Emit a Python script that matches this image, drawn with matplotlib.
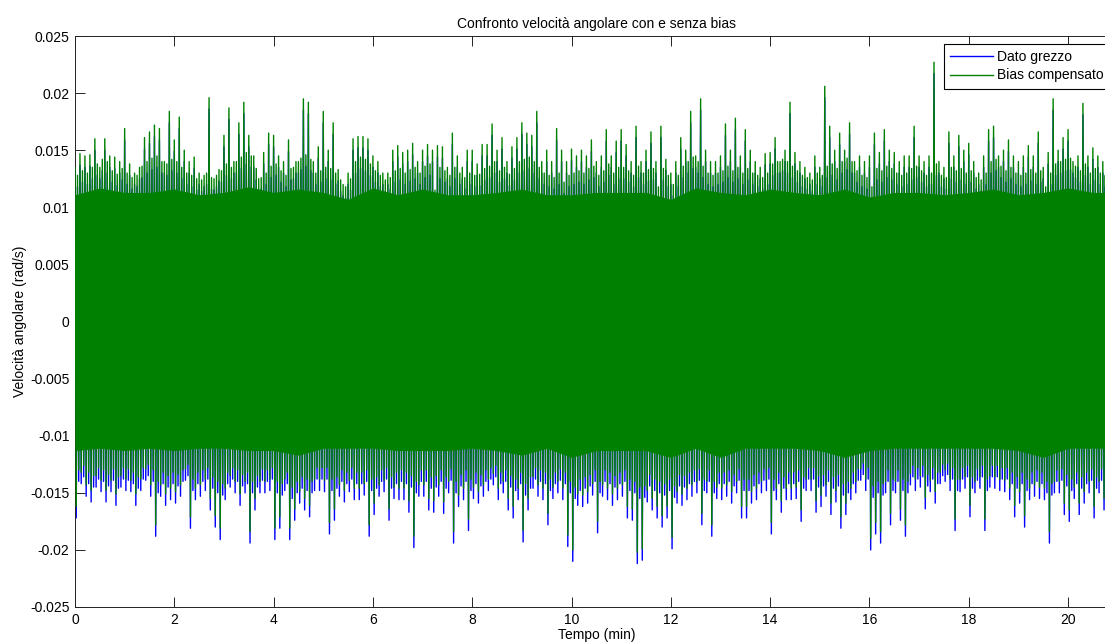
import numpy as np
import matplotlib
matplotlib.use("Agg")
import matplotlib.pyplot as plt
from matplotlib.ticker import FuncFormatter

plt.rcParams["font.family"] = ["Liberation Sans", "DejaVu Sans"]
plt.rcParams["font.size"] = 10

C_RAW = "#0000ff"    # Dato grezzo
C_COMP = "#008000"   # Bias compensato

# ----------------------------------------------------------------------
# Data (values in 1e-3 rad/s)
# Each 0.1 min holds: main max, main min, second max, second min
# ----------------------------------------------------------------------
# main maxima of the compensated signal, t = 0.0, 0.1, ... 20.9 min
main_peaks = [
    13.5, 14.7, 14.5, 14.6, 16.0, 13.5, 16.0, 14.5, 14.4, 14.0,
    16.9, 13.8, 13.0, 13.5, 16.1, 16.6, 17.2, 16.9, 14.0, 18.4,
    15.9, 17.9, 15.0, 14.0, 14.4, 13.0, 12.8, 19.6, 12.5, 13.3,
    16.3, 18.7, 14.0, 17.4, 19.2, 16.3, 14.5, 12.5, 14.8, 16.5,
    16.3, 14.5, 14.0, 15.9, 13.5, 14.0, 19.5, 19.2, 14.0, 15.3,
    18.4, 15.0, 17.4, 13.3, 12.0, 13.0, 16.0, 16.2, 16.2, 16.0,
    14.5, 14.0, 13.0, 13.0, 15.0, 15.4, 14.8, 15.0, 15.6, 14.0,
    15.0, 15.5, 15.0, 15.4, 15.3, 13.5, 16.5, 14.5, 13.5, 15.0,
    15.0, 13.8, 15.5, 15.5, 17.3, 15.0, 16.1, 14.0, 15.3, 16.1,
    17.4, 16.5, 16.3, 18.4, 14.0, 15.0, 14.0, 16.9, 15.0, 14.0,
    15.1, 14.5, 15.0, 14.5, 15.9, 14.0, 14.5, 16.8, 14.5, 15.8,
    16.8, 15.5, 14.0, 17.1, 14.0, 15.0, 16.6, 14.0, 17.1, 14.2,
    13.0, 14.0, 16.1, 15.0, 18.4, 14.5, 19.5, 15.0, 14.0, 14.0,
    14.5, 17.3, 15.0, 17.8, 14.5, 16.8, 15.0, 14.0, 13.5, 14.7,
    14.8, 16.1, 14.0, 15.0, 19.2, 14.8, 14.0, 13.5, 13.0, 14.5,
    13.5, 20.6, 17.1, 15.0, 16.5, 15.0, 17.4, 14.0, 14.5, 14.0,
    14.5, 16.5, 14.8, 16.8, 15.0, 14.8, 14.0, 14.5, 14.5, 17.1,
    14.5, 14.0, 14.5, 22.7, 14.0, 13.5, 16.6, 14.5, 16.3, 15.0,
    15.6, 14.0, 13.0, 14.5, 16.8, 17.1, 14.5, 15.0, 15.9, 14.5,
    14.0, 14.5, 15.4, 14.5, 16.6, 13.5, 14.8, 19.5, 15.0, 16.1,
    16.8, 14.0, 14.5, 19.1, 14.5, 15.2, 14.5, 14.0, 13.5, 14.0,
]
# main minima of the compensated signal
main_troughs = [
    -16.2, -13.2, -14.3, -14.8, -13.5, -13.9, -14.8, -13.9, -15.1, -13.5,
    -13.8, -13.9, -15.1, -13.8, -12.9, -14.3, -17.8, -14.3, -15.1, -14.6,
    -14.9, -14.3, -12.9, -17.1, -14.6, -14.3, -13.8, -15.5, -17.0, -18.1,
    -14.6, -13.5, -14.0, -15.1, -14.0, -18.4, -15.5, -14.0, -14.0, -13.8,
    -18.1, -17.1, -13.8, -18.1, -16.4, -14.9, -15.5, -16.1, -13.8, -13.8,
    -13.9, -17.6, -16.4, -14.3, -14.8, -13.9, -14.6, -14.6, -14.2, -17.8,
    -15.9, -14.3, -13.9, -16.4, -14.5, -14.6, -14.6, -15.7, -18.8, -14.3,
    -14.3, -15.5, -15.7, -14.3, -15.8, -14.0, -18.4, -15.2, -14.6, -17.3,
    -14.5, -14.9, -14.3, -13.8, -13.3, -14.6, -14.0, -15.5, -16.2, -14.6,
    -18.3, -15.5, -13.6, -14.3, -14.6, -16.8, -14.5, -14.0, -14.6, -18.7,
    -20.0, -15.1, -15.2, -14.9, -14.2, -17.5, -14.3, -14.6, -15.1, -14.6,
    -14.3, -16.2, -16.4, -20.2, -19.9, -14.8, -15.5, -16.2, -17.0, -16.2,
    -18.9, -14.9, -15.1, -14.6, -14.3, -14.0, -16.8, -14.0, -17.8, -14.5,
    -14.6, -14.3, -14.9, -14.0, -16.2, -16.2, -14.9, -14.6, -14.0, -13.8,
    -17.6, -14.6, -15.7, -14.6, -14.6, -14.5, -16.5, -13.8, -13.8, -15.7,
    -15.2, -14.3, -15.9, -14.8, -17.1, -15.9, -14.6, -14.0, -12.9, -13.8,
    -19.0, -17.6, -18.4, -14.0, -16.8, -14.0, -16.4, -17.8, -13.3, -13.8,
    -13.5, -15.4, -13.9, -14.9, -13.2, -13.0, -13.8, -17.3, -13.9, -13.6,
    -16.1, -14.0, -13.6, -17.3, -13.5, -13.6, -13.8, -13.9, -14.6, -16.1,
    -14.9, -17.0, -14.6, -14.3, -14.5, -14.6, -18.4, -14.0, -14.0, -15.9,
    -16.5, -14.5, -15.9, -14.9, -14.0, -16.2, -14.0, -15.5, -14.0, -14.5,
]
# second (smaller) maxima inside each 0.1 min
minor_peaks = [
    12.8, 13.2, 13.0, 13.5, 13.8, 14.2, 14.0, 13.2, 12.9, 13.4,
    13.0, 12.6, 12.8, 13.6, 14.0, 14.3, 14.5, 14.0, 13.8, 14.2,
    14.0, 13.5, 13.0, 12.8, 12.5, 12.4, 13.0, 12.6, 12.8, 13.2,
    13.8, 13.5, 14.0, 14.4, 14.8, 14.5, 13.4, 12.6, 13.0, 13.6,
    13.8, 13.2, 12.8, 13.4, 14.0, 14.3, 14.6, 14.2, 13.0, 13.2,
    13.5, 13.4, 13.0, 12.4, 11.8, 12.5, 14.0, 14.4, 14.2, 13.8,
    13.2, 12.8, 12.4, 12.6, 13.2, 13.4, 13.0, 13.3, 13.5, 13.0,
    13.6, 13.8, 11.5, 13.5, 13.2, 12.8, 13.5, 13.0, 12.6, 13.0,
    12.8, 12.9, 13.4, 13.6, 14.0, 13.2, 13.5, 12.9, 13.4, 14.0,
    14.2, 14.4, 14.0, 13.5, 13.0, 12.8, 12.6, 13.0, 12.2, 12.8,
    13.0, 13.2, 13.0, 13.4, 13.6, 12.8, 13.2, 13.8, 13.0, 13.5,
    13.5, 13.2, 12.8, 13.6, 13.0, 13.3, 13.4, 11.8, 13.4, 12.8,
    12.0, 12.8, 13.6, 14.0, 14.4, 14.0, 13.6, 13.0, 12.8, 13.0,
    13.2, 13.6, 13.2, 13.5, 13.0, 13.4, 13.0, 12.8, 12.6, 13.0,
    13.8, 14.0, 14.2, 14.0, 13.6, 13.2, 12.8, 12.6, 12.4, 13.0,
    12.8, 13.6, 13.8, 13.4, 14.0, 14.3, 14.0, 13.2, 12.8, 12.6,
    11.8, 13.4, 13.2, 13.6, 13.4, 13.0, 12.8, 13.0, 13.4, 13.6,
    13.2, 12.8, 13.0, 13.8, 12.8, 12.6, 13.5, 13.2, 13.4, 13.0,
    13.2, 12.6, 12.4, 13.0, 14.0, 14.2, 13.6, 13.2, 13.5, 13.0,
    12.8, 13.0, 13.3, 13.0, 13.2, 11.8, 13.0, 13.8, 14.0, 14.2,
    14.3, 13.6, 13.2, 13.8, 13.0, 13.4, 13.0, 12.8, 12.6, 13.0,
]
# second (smaller) minima inside each 0.1 min
minor_troughs = [
    -13.0, -12.6, -13.2, -13.5, -12.8, -13.0, -13.4, -12.9, -13.6, -12.8,
    -12.9, -13.2, -13.6, -12.8, -12.5, -13.0, -14.0, -13.2, -13.5, -13.2,
    -13.4, -13.0, -12.5, -13.8, -13.2, -13.0, -12.8, -13.6, -14.0, -14.2,
    -13.2, -12.8, -13.0, -13.4, -13.2, -14.0, -13.5, -12.9, -13.0, -12.8,
    -14.0, -14.2, -13.2, -14.5, -14.0, -13.6, -13.8, -14.0, -12.8, -12.8,
    -12.8, -13.8, -13.6, -13.0, -13.2, -12.8, -13.2, -13.2, -13.0, -13.8,
    -13.6, -13.0, -12.8, -13.6, -13.2, -13.0, -13.2, -13.5, -14.0, -13.0,
    -13.0, -13.6, -13.5, -13.0, -13.6, -12.9, -14.0, -13.4, -13.0, -13.8,
    -13.2, -13.4, -13.0, -12.8, -12.6, -13.2, -13.0, -13.5, -13.8, -13.2,
    -14.2, -13.6, -12.8, -13.0, -13.2, -13.8, -13.2, -12.9, -13.2, -14.0,
    -14.5, -13.8, -13.6, -13.4, -13.0, -14.0, -13.0, -13.2, -13.5, -13.2,
    -13.0, -13.8, -14.0, -14.5, -14.4, -13.4, -13.8, -14.0, -14.2, -13.8,
    -14.4, -13.4, -13.5, -13.2, -13.0, -12.9, -13.8, -13.0, -14.0, -13.2,
    -13.2, -13.0, -13.4, -12.9, -13.8, -13.8, -13.4, -13.2, -12.9, -12.8,
    -13.8, -13.2, -13.6, -13.2, -13.2, -13.0, -13.6, -12.8, -12.8, -13.5,
    -13.4, -13.0, -13.6, -13.4, -14.2, -14.0, -13.2, -12.9, -12.4, -12.8,
    -14.4, -14.0, -14.2, -13.0, -13.8, -13.0, -13.8, -14.0, -12.6, -12.8,
    -12.6, -13.4, -12.8, -13.2, -12.5, -12.4, -12.8, -13.8, -12.8, -12.6,
    -13.6, -12.9, -12.6, -13.8, -12.6, -12.6, -12.8, -12.8, -13.2, -13.6,
    -13.2, -13.8, -13.2, -13.0, -13.2, -14.0, -14.2, -13.0, -12.9, -13.4,
    -13.8, -13.2, -13.6, -13.2, -12.9, -13.6, -12.9, -13.4, -12.8, -13.0,
]
# solid body of the band, every 0.5 min from t = 0
core_top = [
    11.1, 11.7, 11.3, 11.3, 11.6, 11.1, 11.3, 11.8, 11.3, 11.6,
    11.3, 10.7, 11.7, 11.1, 11.6, 11.1, 11.1, 11.3, 11.6, 11.1,
    11.1, 11.3, 11.3, 11.3, 10.7, 11.7, 11.3, 11.1, 11.6, 11.3,
    11.1, 11.6, 10.9, 11.3, 11.3, 11.1, 11.3, 11.6, 11.1, 11.3,
    11.7, 11.3, 11.3,
]
core_bot = [
    -11.3, -11.1, -11.3, -11.1, -11.3, -11.1, -11.1, -11.3, -11.3, -11.7,
    -11.1, -11.1, -11.1, -11.3, -11.3, -11.3, -11.1, -11.3, -11.7, -11.1,
    -11.9, -11.3, -11.3, -11.3, -11.9, -11.1, -11.9, -11.1, -11.1, -11.1,
    -11.3, -11.9, -11.3, -11.1, -11.1, -11.1, -11.1, -11.1, -11.3, -11.9,
    -11.1, -11.1, -11.1,
]
BIAS = -1.0   # raw = compensated + bias (1e-3 rad/s)

DT = 0.1        # min per group of four samples
DT_CORE = 0.5

# ----------------------------------------------------------------------
groups = np.column_stack([main_peaks, main_troughs, minor_peaks, minor_troughs])
y = groups.ravel() * 1e-3
t = np.arange(len(y)) * (DT / 4)
bias = BIAS * 1e-3

t_core = np.arange(len(core_top)) * DT_CORE
ctop = np.array(core_top) * 1e-3
cbot = np.array(core_bot) * 1e-3

W, H, DPI = 1105, 644, 100
fig = plt.figure(figsize=(W / DPI, H / DPI), dpi=DPI)
ax = fig.add_axes([75 / W, 37 / H, 1042.7 / W, 571 / H])

LW = 1.0
# raw signal underneath; the compensated one is drawn over it
ax.plot(t, y + bias, color=C_RAW, lw=LW, label="Dato grezzo", zorder=1)
ax.fill_between(t_core, cbot, ctop, color=C_COMP, lw=0, zorder=2)
ax.plot(t, y, color=C_COMP, lw=LW, label="Bias compensato", zorder=3)

ax.set_xlim(0, 21)
ax.set_ylim(-0.025, 0.025)
ax.set_xticks(np.arange(0, 21, 2))
ax.set_yticks(np.arange(-0.025, 0.0251, 0.005))
ax.yaxis.set_major_formatter(FuncFormatter(lambda v, p: f"{round(v, 3) + 0:g}"))
ax.tick_params(direction="in", length=7, width=0.6, top=True, right=True,
               labelsize=10, pad=4)
for s in ax.spines.values():
    s.set_linewidth(0.7)
    s.set_color("#222222")

ax.set_title("Confronto velocità angolare con e senza bias", fontsize=10, pad=6)
ax.set_xlabel("Tempo (min)", fontsize=10, labelpad=1)
ax.set_ylabel("Velocità angolare (rad/s)", fontsize=10, labelpad=2)

leg = ax.legend(loc="upper left", bbox_to_anchor=((944 - 75) / 1042.7, 1 - 8 / 571),
                borderaxespad=0, fancybox=False, edgecolor="black",
                framealpha=1, fontsize=10, handlelength=3.1, handletextpad=0.3,
                borderpad=0.45, labelspacing=0.3)
leg.get_frame().set_linewidth(0.8)
leg.set_zorder(5)

fig.savefig("out.png", dpi=DPI)
